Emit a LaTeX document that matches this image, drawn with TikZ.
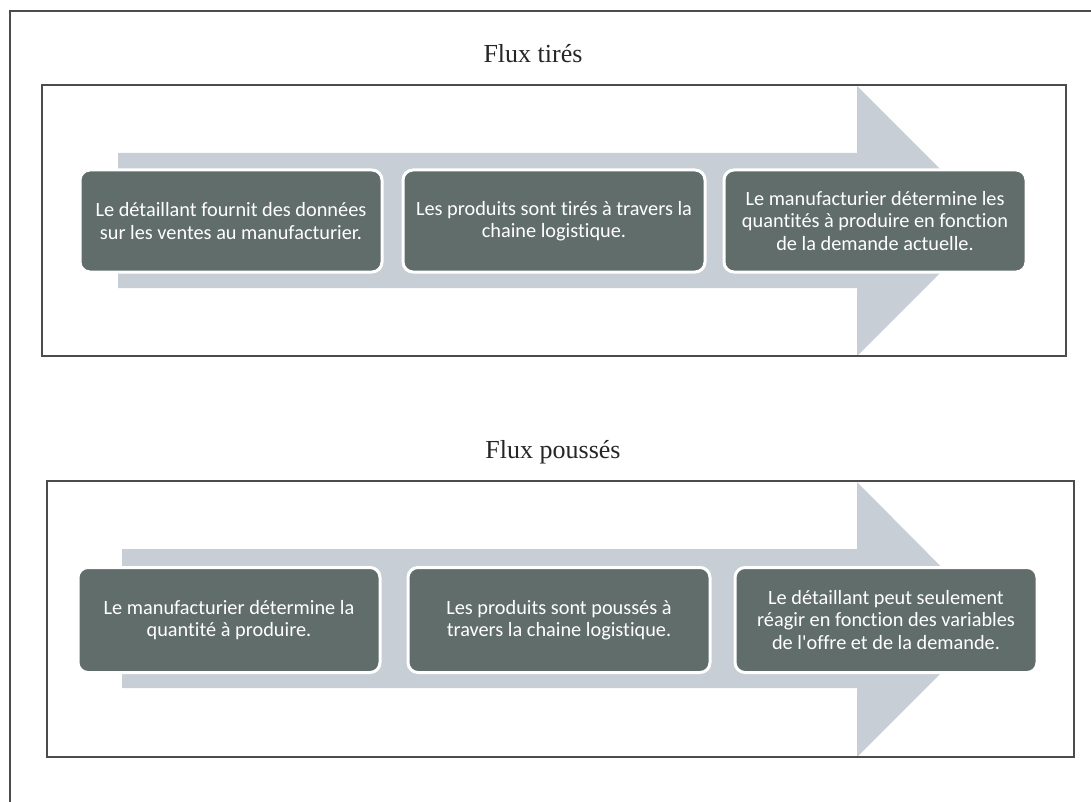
\documentclass[tikz,border=0pt]{standalone}
\usepackage{fontspec}
\setmainfont{Liberation Serif}
\newfontfamily\boxfont[Ligatures=NoCommon]{Carlito}
\begin{document}
\begin{tikzpicture}[x=1pt,y=-1pt,
  framecol/.style={draw=black!70,line width=1.1pt},
  stepbox/.style={rectangle,rounded corners=10pt,fill=boxgray,draw=white,
    line width=3pt,minimum width=302pt,inner sep=0pt,text=white,align=center,
    font=\boxfont\fontsize{20.3}{22.5}\selectfont},
  flowtitle/.style={anchor=base,font=\fontsize{26}{30}\selectfont,text=black!85}]
\definecolor{boxgray}{HTML}{616D6B}
\definecolor{arrowgray}{HTML}{C8CED5}
\useasboundingbox (0,0) rectangle (1091,802);

% page border (top and left)
\draw[framecol] (1091,11) -- (10,11) -- (10,802);

% ---- pull flow ----
\node[flowtitle] (t1) at (533,63) {Flux tirés};
\fill[arrowgray] (118,153) -- (857,153) -- (857,86) -- (992,221) -- (857,356)
  -- (857,288) -- (118,288) -- cycle;
\draw[framecol] (42,85) rectangle (1066,356);
\node[stepbox,minimum height=102pt] (a1) at (231,221)
  {Le détaillant fournit des données\\sur les ventes au manufacturier.};
\node[stepbox,minimum height=102pt] (a2) at (554,221)
  {Les produits sont tirés à travers la\\chaine logistique.};
\node[stepbox,minimum height=102pt] (a3) at (875,221)
  {Le manufacturier détermine les\\quantités à produire en fonction\\de la demande actuelle.};

% ---- push flow ----
\node[flowtitle] (t2) at (553,458) {Flux poussés};
\fill[arrowgray] (122,549) -- (857,549) -- (857,482) -- (994,620) -- (857,757)
  -- (857,688) -- (122,688) -- cycle;
\draw[framecol] (47,481) rectangle (1074,757);
\node[stepbox,minimum height=105pt] (b1) at (229,620)
  {Le manufacturier détermine la\\quantité à produire.};
\node[stepbox,minimum height=105pt] (b2) at (559,620)
  {Les produits sont poussés à\\travers la chaine logistique.};
\node[stepbox,minimum height=105pt] (b3) at (886,620)
  {Le détaillant peut seulement\\réagir en fonction des variables\\de l'offre et de la demande.};
\end{tikzpicture}
\end{document}
